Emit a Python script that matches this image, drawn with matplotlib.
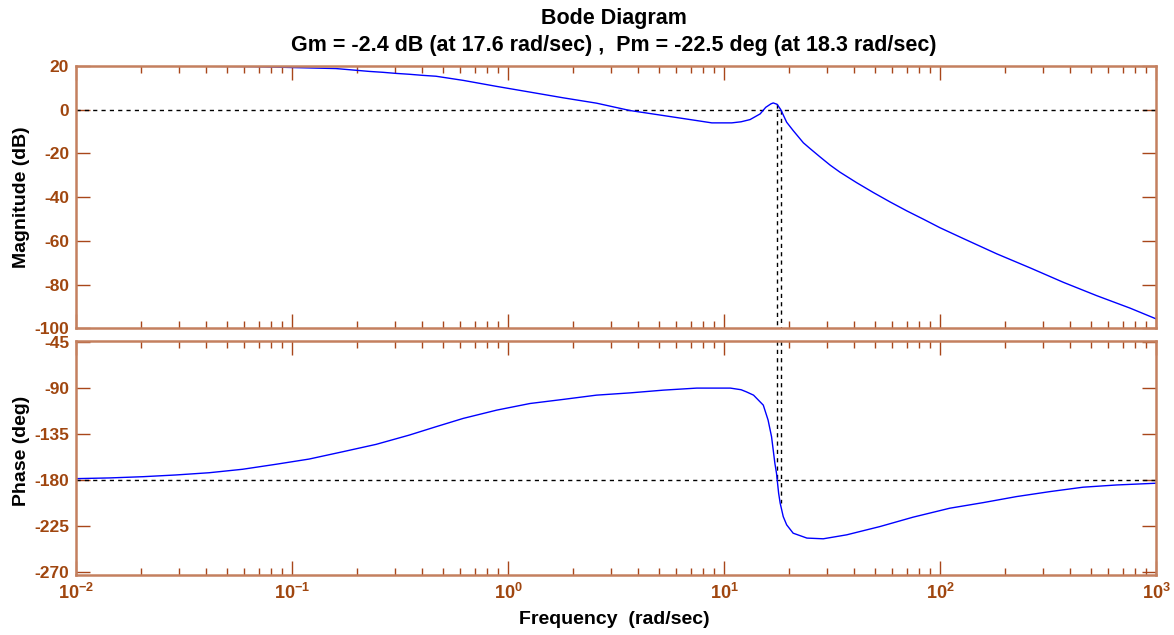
"""
plot.py

Bode diagram with gain / phase margin markers, drawn in the old MATLAB look.
Saves out.png
"""
import matplotlib
matplotlib.use("Agg")
import matplotlib.pyplot as plt
from matplotlib.ticker import FixedLocator, LogLocator, NullFormatter

plt.rcParams['font.family'] = ['Liberation Sans', 'DejaVu Sans']
plt.rcParams['font.weight'] = 'bold'
plt.rcParams['mathtext.fontset'] = 'custom'
plt.rcParams['mathtext.rm'] = 'Liberation Sans:bold'
plt.rcParams['mathtext.it'] = 'Liberation Sans:bold'
plt.rcParams['mathtext.bf'] = 'Liberation Sans:bold'

# magnitude curve (rad/sec, dB)
mag_freq = [0.01, 0.03, 0.066, 0.16, 0.228, 0.263, 0.303, 0.349, 0.403, 0.464,
            0.621, 0.887, 1.265, 1.80, 2.57, 3.67, 5.24, 7.48, 8.78, 10.86,
            12.0, 13.2, 14.7, 15.6, 16.5, 16.9, 17.6, 18.3, 19.5, 20.9, 23.3,
            25.0, 27.8, 31.0, 34.4, 41.1, 49.1, 58.7, 70.2, 83.8, 100, 128,
            183, 261, 372, 531, 758, 1000]
mag_db = [19.9, 19.8, 19.6, 18.7, 17.4, 17.0, 16.5, 16.1, 15.6, 15.2,
          13.3, 10.55, 7.95, 5.35, 2.9, -0.46, -2.75, -5.05, -6.1, -6.1,
          -5.6, -4.6, -2.0, 1.0, 2.6, 3.0, 2.4, 0.0, -5.8, -9.6, -15.2,
          -17.8, -21.6, -25.4, -28.6, -33.4, -37.9, -42.2, -46.3, -50.1, -54.0, -58.9,
          -65.9, -72.3, -78.9, -85.0, -90.7, -95.6]

# phase curve (rad/sec, deg)
phase_freq = [0.01, 0.0143, 0.0204, 0.029, 0.0414, 0.0591, 0.0844, 0.12, 0.172,
              0.245, 0.349, 0.464, 0.621, 0.887, 1.265, 1.80, 2.57, 3.67, 5.24,
              7.48, 10.7, 12.0, 12.7, 13.7, 15.2, 16.0, 16.6, 17.2, 17.5, 17.9,
              18.2, 18.8, 19.5, 20.9, 24.2, 28.8, 37.0, 45.8, 52.7, 75.0, 111,
              158.6, 226, 323, 459, 658, 1000]
phase_deg = [-178.7, -178.0, -176.8, -175.1, -172.9, -169.5, -164.6, -159.5, -152.3,
             -145.1, -136.0, -127.8, -119.6, -111.5, -105.0, -101.0, -96.8, -94.6, -91.9,
             -89.9, -89.9, -91.5, -93.6, -96.8, -106.6, -121.3, -137.6, -163.7, -173.4, -193.0,
             -202.8, -215.9, -224.0, -232.2, -237.0, -237.7, -233.8, -228.9, -225.7, -216.5, -207.7,
             -202.2, -196.3, -191.4, -187.1, -184.9, -183.2]

# margins
gm_db = -2.4
gm_freq = 17.6
pm_deg = -22.5
pm_freq = 18.3

mag_ticks = [20, 0, -20, -40, -60, -80, -100]
phase_ticks = [-45, -90, -135, -180, -225, -270]
freq_ticks = [1e-2, 1e-1, 1e0, 1e1, 1e2, 1e3]
freq_labels = [r'$10^{-2}$', r'$10^{-1}$', r'$10^{0}$', r'$10^{1}$', r'$10^{2}$', r'$10^{3}$']

SPINE = '#c4805f'
TICK = '#a8461a'
LABEL = '#a0460f'


def style_axes(ax, yticks, ylim, show_x):
    """sets up log x axis, inward ticks on all sides and the brown colours"""
    ax.set_xscale('log')
    ax.set_xlim(1e-2, 1e3)
    ax.set_ylim(*ylim)
    ax.yaxis.set_major_locator(FixedLocator(yticks))
    ax.set_yticklabels([str(t) for t in yticks])
    ax.xaxis.set_major_locator(FixedLocator(freq_ticks))
    ax.xaxis.set_minor_locator(LogLocator(base=10, subs=range(2, 10), numticks=100))
    ax.xaxis.set_minor_formatter(NullFormatter())
    if show_x:
        ax.set_xticklabels(freq_labels)
    else:
        ax.set_xticklabels([])
    ax.tick_params(which='both', direction='in', top=True, right=True,
                   color=TICK, labelcolor=LABEL)
    ax.tick_params(axis='y', labelsize=12.5, pad=5)
    ax.tick_params(axis='x', labelsize=13, pad=6)
    ax.tick_params(which='major', length=10, width=1)
    ax.tick_params(which='minor', length=5, width=1)
    for s in ax.spines.values():
        s.set_color(SPINE)
        s.set_linewidth(1.8)


def main():
    fig = plt.figure(figsize=(11.74, 6.35), dpi=100)
    ax1 = fig.add_axes([0.0647, 0.4827, 0.92, 0.4138])
    ax2 = fig.add_axes([0.0647, 0.0945, 0.92, 0.3685])

    mag_lim = (-100, 20)
    phase_lim = (-273.2, -43.7)

    style_axes(ax1, mag_ticks, mag_lim, False)
    style_axes(ax2, phase_ticks, phase_lim, True)

    dots = dict(color='k', linestyle=(0, (3, 3)), linewidth=1)

    # magnitude panel
    ax1.axhline(0, **dots)
    ax1.plot([gm_freq, gm_freq], [-gm_db, mag_lim[0]], **dots)
    ax1.plot([pm_freq, pm_freq], [0, mag_lim[0]], **dots)
    ax1.plot(mag_freq, mag_db, color='#0000ff', linewidth=1)

    # phase panel
    ax2.axhline(-180, **dots)
    ax2.plot([gm_freq, gm_freq], [phase_lim[1], -180], **dots)
    ax2.plot([pm_freq, pm_freq], [phase_lim[1], -180 + pm_deg], **dots)
    ax2.plot(phase_freq, phase_deg, color='#0000ff', linewidth=1)

    fig.text(0.523, 0.971, 'Bode Diagram', ha='center', va='center',
             fontsize=15.5, weight='bold')
    fig.text(0.523, 0.928, 'Gm = %.1f dB (at %.1f rad/sec) ,  Pm = %.1f deg (at %.1f rad/sec)'
             % (gm_db, gm_freq, pm_deg, pm_freq),
             ha='center', va='center', fontsize=15.5, weight='bold')

    fig.text(0.018, 0.69, 'Magnitude (dB)', rotation=90, ha='center', va='center',
             fontsize=14, weight='bold')
    fig.text(0.018, 0.29, 'Phase (deg)', rotation=90, ha='center', va='center',
             fontsize=14, weight='bold')
    fig.text(0.523, 0.025, 'Frequency  (rad/sec)', ha='center', va='center',
             fontsize=14, weight='bold')

    fig.savefig('out.png', dpi=100)


if __name__ == '__main__':
    main()
